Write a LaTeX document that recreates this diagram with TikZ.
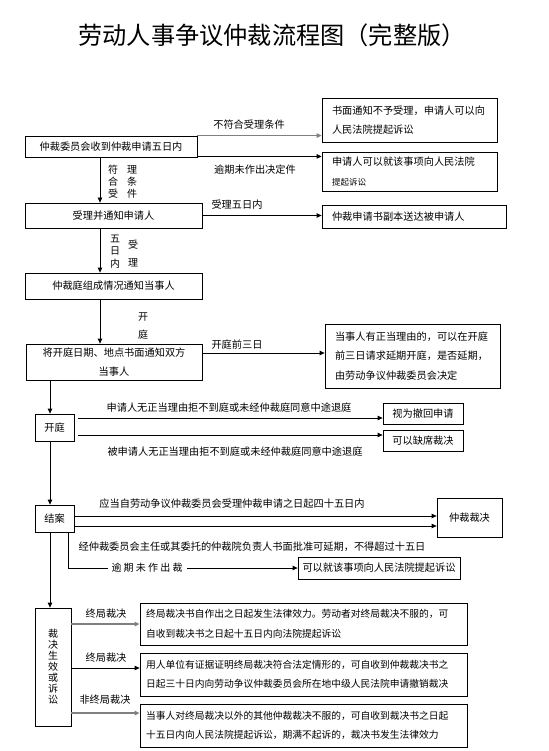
\documentclass[tikz,border=0pt]{standalone}
\usepackage{fontspec}
\setmainfont{Noto Sans CJK SC}
\newfontfamily\spacedfont[LetterSpace=22]{Noto Sans CJK SC}
\usetikzlibrary{arrows.meta}
\begin{document}
\begin{tikzpicture}[x=1pt,y=-1pt,
  every node/.style={font=\fontsize{10.2}{19.5}\selectfont},
  cbox/.style={draw,line width=0.8pt,inner sep=0pt,align=center},
  lbox/.style={draw,line width=0.8pt,inner xsep=10pt,inner ysep=0pt,align=left},
  sbox/.style={draw,line width=0.8pt,inner xsep=6pt,inner ysep=0pt,align=left,text width=315pt,font=\fontsize{9.75}{19.5}\selectfont},
  lab/.style={inner sep=0pt},
  vlab/.style={inner sep=0pt,align=center},
  arr/.style={line width=0.8pt,-{Triangle[length=5pt,width=4.5pt]}},
  garr/.style={line width=1.6pt,draw=gray,-{Triangle[length=5pt,width=4.5pt]}},
  ln/.style={line width=0.8pt}
]
\useasboundingbox (0,0) rectangle (548,751);
\node[lab,font=\fontsize{24.2}{27}\selectfont] (title) at (272,35) {劳动人事争议仲裁流程图（完整版）};

% main column
\node[cbox,minimum width=172pt,minimum height=21pt] (b1) at (111,146.5) {仲裁委员会收到仲裁申请五日内};
\node[cbox,minimum width=177pt,minimum height=25pt] (b2) at (113.5,215.5) {受理并通知申请人};
\node[cbox,minimum width=177pt,minimum height=26pt] (b3) at (113.5,286) {仲裁庭组成情况通知当事人};
\node[cbox,minimum width=176pt,minimum height=36pt,font=\fontsize{10.2}{19}\selectfont] (b4) at (114,362) {将开庭日期、地点书面通知双方\\当事人};

% right boxes
\node[lbox,minimum height=44pt,text width=155pt] (t1) at (409.5,120) {书面通知不予受理，申请人可以向\\人民法院提起诉讼};
\node[lbox,minimum height=39pt,text width=155pt] (t2) at (409.5,171.5) {申请人可以就该事项向人民法院\\{\fontsize{8.5}{10}\selectfont 提起诉讼}};
\node[lbox,minimum height=23pt,text width=164pt] (t3) at (414,216.5) {仲裁申请书副本送达被申请人};
\node[lbox,minimum height=64pt,text width=155pt] (t4) at (412.5,356) {当事人有正当理由的，可以在开庭\\前三日请求延期开庭，是否延期，\\由劳动争议仲裁委员会决定};

% small left boxes
\node[cbox,minimum width=39pt,minimum height=27pt] (k1) at (54.5,427.5) {开庭};
\node[cbox,minimum width=39pt,minimum height=27pt] (k2) at (54.5,518.5) {结案};
\node[cbox,minimum width=36pt,minimum height=118pt,font=\fontsize{10}{11}\selectfont] (k3) at (53,667) {裁\\决\\生\\效\\或\\诉\\讼};

\node[cbox,minimum width=80pt,minimum height=21pt] (r1) at (423,413.5) {视为撤回申请};
\node[cbox,minimum width=80pt,minimum height=21pt] (r2) at (423,440.5) {可以缺席裁决};
\node[cbox,minimum width=65pt,minimum height=39pt] (r3) at (469.5,517.5) {仲裁裁决};
\node[cbox,minimum width=162pt,minimum height=22pt] (r4) at (379,568) {可以就该事项向人民法院提起诉讼};

\node[sbox,minimum height=42pt] (s1) at (303.5,624) {终局裁决书自作出之日起发生法律效力。劳动者对终局裁决不服的，可\\自收到裁决书之日起十五日内向法院提起诉讼};
\node[sbox,minimum height=43pt] (s2) at (303.5,674.5) {用人单位有证据证明终局裁决符合法定情形的，可自收到仲裁裁决书之\\日起三十日内向劳动争议仲裁委员会所在地中级人民法院申请撤销裁决};
\node[sbox,minimum height=43pt] (s3) at (303.5,725.5) {当事人对终局裁决以外的其他仲裁裁决不服的，可自收到裁决书之日起\\十五日内向人民法院提起诉讼，期满不起诉的，裁决书发生法律效力};

% coordinates for vertical lines
\coordinate (vx) at (100,0);
\coordinate (wx) at (50,0);

% vertical arrows
\draw[arr] (b1.south -| vx) -- (b2.north -| vx);
\draw[arr] (b2.south -| vx) -- (b3.north -| vx);
\draw[arr] (b3.south -| vx) -- (b4.north -| vx);
\draw[arr] (b4.south -| wx) -- (k1.north -| wx);
\draw[arr] (k1.south -| wx) -- (k2.north -| wx);
\draw[arr] (k2.south -| wx) -- (k3.north -| wx);

% vertical labels
\node[vlab,font=\fontsize{10}{12}\selectfont] (v1) at (113,182) {符\\合\\受};
\node[vlab,font=\fontsize{10}{12}\selectfont] (v2) at (132,182) {理\\条\\件};
\node[vlab,font=\fontsize{10}{12.5}\selectfont] (v3) at (115,251.5) {五\\日\\内};
\node[vlab,font=\fontsize{10}{18}\selectfont] (v4) at (133,254) {受\\理};
\node[vlab,font=\fontsize{10}{18}\selectfont] (v5) at (143,326) {开\\庭};

% right arrows from main column
\draw[garr] (b1.north east) -- (b1.north east -| t1.west);
\draw[arr] ([yshift=1pt]b1.south east) -- ([yshift=1pt]b1.south east -| t2.west);
\draw[arr] (b2.east) -- (b2.east -| t3.west);
\draw[arr] ([yshift=9pt]b4.east) -- ([yshift=9pt]b4.east -| t4.west);
\node[lab] (l1) at (249,125) {不符合受理条件};
\node[lab] (l2) at (255,170) {逾期未作出决定件};
\node[lab] (l3) at (237,205) {受理五日内};
\node[lab] (l4) at (237,345) {开庭前三日};

% 开庭 arrows
\draw[arr] ([xshift=4pt,yshift=9.5pt]k1.east) -- ([yshift=9.5pt]k1.east -| r1.west);
\draw[arr] ([xshift=4pt,yshift=-7.5pt]k1.east) -- ([yshift=-7.5pt]k1.east -| r2.west);
\node[lab] (l5) at (229,408) {申请人无正当理由拒不到庭或未经仲裁庭同意中途退庭};
\node[lab] (l6) at (235,452) {被申请人无正当理由拒不到庭或未经仲裁庭同意中途退庭};

% 结案 arrows
\draw[arr] ([yshift=2.5pt]k2.east) -- ([yshift=2.5pt]k2.east -| r3.west);
\draw[arr] ([yshift=-7.5pt]k2.east) -- ([yshift=-7.5pt]k2.east -| r3.west);
\node[lab] (l7) at (232,504) {应当自劳动争议仲裁委员会受理仲裁申请之日起四十五日内};
\node[lab] (l8) at (252,547) {经仲裁委员会主任或其委托的仲裁院负责人书面批准可延期，不得超过十五日};
\draw[arr] ([xshift=13.5pt]k2.south) |- (r4.west);
\node[lab,fill=white,inner xsep=4pt,inner ysep=2pt,font=\spacedfont\fontsize{10}{12}\selectfont] (l9) at (147,567.5) {逾期未作出裁};

% 裁决生效或诉讼 arrows
\draw[garr] (k3.east |- s1.west) -- (s1.west);
\draw[arr] ([yshift=6.5pt]s2.west -| k3.east) -- ([yshift=6.5pt]s2.west);
\draw[garr] ([yshift=12.5pt]s3.west -| k3.east) -- ([yshift=12.5pt]s3.west);
\node[lab] (l10) at (106,614) {终局裁决};
\node[lab] (l11) at (106,658) {终局裁决};
\node[lab] (l12) at (105,700) {非终局裁决};
\end{tikzpicture}
\end{document}
